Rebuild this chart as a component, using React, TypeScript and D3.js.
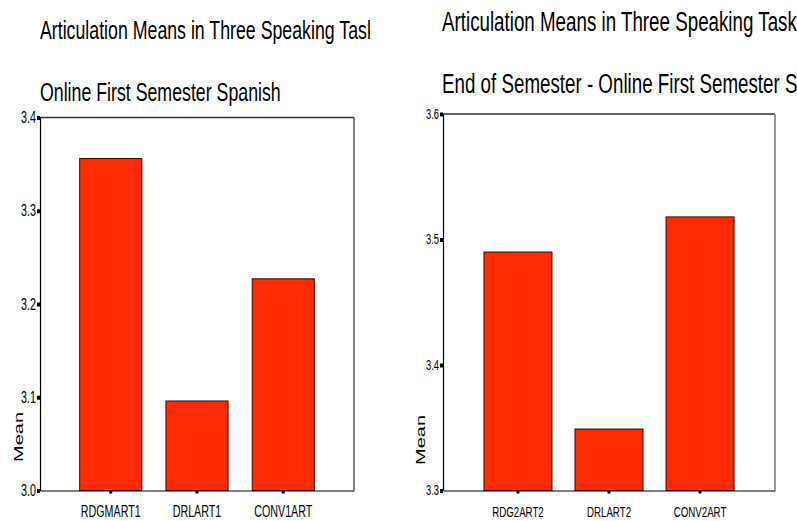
import React, { useEffect, useRef } from 'react';
import * as d3 from 'd3';

// left panel: start of semester
const leftCategories = ["RDGMART1", "DRLART1", "CONV1ART"];
const leftMeans = [3.356, 3.096, 3.227];
const leftTicks = [3.0, 3.1, 3.2, 3.3, 3.4];
const leftTitle = ["Articulation Means in Three Speaking Tasks", "Online First Semester Spanish"];

// right panel: end of semester
const rightCategories = ["RDG2ART2", "DRLART2", "CONV2ART"];
const rightMeans = [3.49, 3.349, 3.518];
const rightTicks = [3.3, 3.4, 3.5, 3.6];
const rightTitle = ["Articulation Means in Three Speaking Tasks", "End of Semester - Online First Semester Spanish"];

const SX = 0.67; // the original picture is squeezed horizontally
const FONT = "'Liberation Sans', Arial, sans-serif";
const BAR_FILL = "#ff2a00";

interface PanelCfg {
  id: string;
  categories: string[];
  means: number[];
  ticks: number[];
  title: string[];
  left: number; right: number; top: number; bottom: number;
  titleX: number; titleY: number[]; titleFont: number;
  clipLeft: number; clipRight: number;
  tickFont: number; catFont: number;
  meanX: number; meanY: number;
  rightEdgeColor: string;
  padIn: number; padOut: number;
}

const panels: PanelCfg[] = [
  {
    id: "p1", categories: leftCategories, means: leftMeans, ticks: leftTicks, title: leftTitle,
    left: 40, right: 354, top: 117.5, bottom: 490.5,
    titleX: 40, titleY: [38.5, 101], titleFont: 26.5, clipLeft: 0, clipRight: 370,
    tickFont: 16, catFont: 16, meanX: 23, meanY: 437, rightEdgeColor: "#333",
    padIn: 0.28, padOut: 0.46
  },
  {
    id: "p2", categories: rightCategories, means: rightMeans, ticks: rightTicks, title: rightTitle,
    left: 443, right: 775, top: 114, bottom: 490.5,
    titleX: 442, titleY: [31, 93], titleFont: 28, clipLeft: 380, clipRight: 797,
    tickFont: 14, catFont: 14.5, meanX: 425, meanY: 440, rightEdgeColor: "#999",
    padIn: 0.253, padOut: 0.45
  }
];

const App: React.FC = () => {
  const svgRef = useRef<SVGSVGElement>(null);

  useEffect(() => {
    if (!svgRef.current) return;
    const svg = d3.select(svgRef.current);
    svg.selectAll("*").remove();
    const defs = svg.append("defs");

    panels.forEach((p, idx) => {
      defs.append("clipPath").attr("id", `clip-${p.id}`)
        .append("rect").attr("x", p.clipLeft).attr("y", 0)
        .attr("width", p.clipRight - p.clipLeft).attr("height", 521);

      const g = svg.append("g").attr("clip-path", `url(#clip-${p.id})`);

      const x = d3.scaleBand<string>()
        .domain(p.categories)
        .range([p.left, p.right])
        .paddingInner(p.padIn)
        .paddingOuter(p.padOut);

      const y = d3.scaleLinear()
        .domain([p.ticks[0], p.ticks[p.ticks.length - 1]])
        .range([p.bottom, p.top]);

      // titles (cut at the panel edge, as in the original)
      p.title.forEach((t, i) => {
        g.append("text")
          .attr("transform", `translate(${p.titleX},${p.titleY[i]}) scale(${SX},1)`)
          .attr("font-family", FONT)
          .attr("font-size", p.titleFont)
          .attr("fill", "#000")
          .text(t);
      });

      // frame top / right
      g.append("line")
        .attr("x1", p.left).attr("x2", p.right).attr("y1", p.top).attr("y2", p.top)
        .attr("stroke", "#333").attr("stroke-width", 1.5);
      g.append("line")
        .attr("x1", p.right).attr("x2", p.right).attr("y1", p.top).attr("y2", p.bottom)
        .attr("stroke", p.rightEdgeColor).attr("stroke-width", idx === 0 ? 1.2 : 2);

      // bars
      g.selectAll(".bar")
        .data(p.means)
        .enter()
        .append("rect")
        .attr("class", "bar")
        .attr("x", (_, i) => x(p.categories[i]) || 0)
        .attr("width", x.bandwidth())
        .attr("y", d => y(d))
        .attr("height", d => p.bottom - y(d))
        .attr("fill", BAR_FILL)
        .attr("stroke", "#3a0800")
        .attr("stroke-width", 1);

      // y axis
      const yAxis = g.append("g")
        .attr("transform", `translate(${p.left},0)`)
        .call(d3.axisLeft(y).tickValues(p.ticks).tickSize(3).tickSizeOuter(0)
          .tickFormat(d => (d as number).toFixed(1)));
      yAxis.select(".domain").attr("stroke", "#000").attr("stroke-width", 1.2);
      yAxis.selectAll(".tick line").attr("stroke", "#000").attr("stroke-width", 4);
      yAxis.selectAll(".tick text")
        .attr("font-family", FONT)
        .attr("font-size", p.tickFont)
        .attr("fill", "#000")
        .attr("x", -4 / SX)
        .attr("transform", `scale(${SX},1)`);

      // x axis
      const xAxis = g.append("g")
        .attr("transform", `translate(0,${p.bottom})`)
        .call(d3.axisBottom(x).tickSize(3).tickSizeOuter(0));
      xAxis.select(".domain").attr("stroke", "#000").attr("stroke-width", 1.2);
      xAxis.selectAll(".tick line").attr("stroke", "#000").attr("stroke-width", 3);
      xAxis.selectAll(".tick text")
        .attr("font-family", FONT)
        .attr("font-size", p.catFont)
        .attr("fill", "#000")
        .attr("y", 0)
        .attr("dy", 0)
        .attr("transform", `translate(0,${517 - p.bottom}) scale(${SX},1)`);

      // y label
      g.append("text")
        .attr("transform", `translate(${p.meanX},${p.meanY}) scale(${SX},1) rotate(-90)`)
        .attr("text-anchor", "middle")
        .attr("font-family", FONT)
        .attr("font-size", 20)
        .attr("fill", "#000")
        .text("Mean");
    });
  }, []);

  return (
    <svg ref={svgRef} width={797} height={521}
      style={{ position: 'absolute', left: 0, top: 0, background: '#fff' }} />
  );
};

export default App;
